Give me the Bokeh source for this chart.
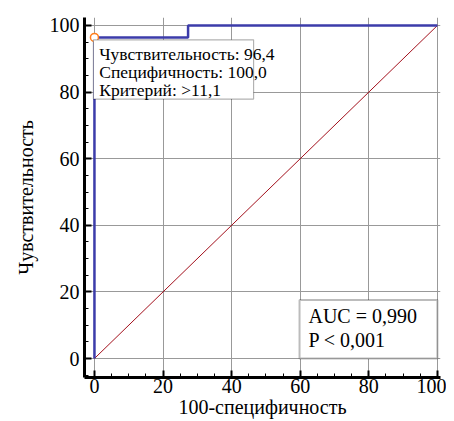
from bokeh.plotting import figure
from bokeh.models import SingleIntervalTicker, Label, BoxAnnotation, Range1d
from bokeh.embed import file_html
from bokeh.resources import INLINE

# ROC data (100-specificity, sensitivity)
fpr = [0, 0, 27.3, 27.3, 100]
tpr = [0, 96.4, 96.4, 100, 100]
diag_x = [0, 100]
diag_y = [0, 100]
cut_x = [0]
cut_y = [96.4]
info_lines = ["Чувствительность: 96,4", "Специфичность: 100,0", "Критерий: >11,1"]
auc_lines = ["AUC = 0,990", "P < 0,001"]

FONT = "'Liberation Serif', 'Times New Roman', serif"

p = figure(width=446, height=420, output_backend="svg", toolbar_location=None,
           x_range=Range1d(-2.9, 100.9), y_range=Range1d(-5.7, 102.4),
           min_border_left=84, min_border_right=6, min_border_top=17, min_border_bottom=40)
p.outline_line_color = None
p.background_fill_color = "white"

p.axis.ticker = SingleIntervalTicker(interval=20, num_minor_ticks=4)
p.axis.axis_line_width = 3
p.axis.axis_line_color = "black"
p.axis.major_tick_in = 7
p.axis.major_tick_out = 0
p.axis.minor_tick_in = 4
p.axis.minor_tick_out = 0
p.axis.major_tick_line_width = 2
p.axis.minor_tick_line_width = 1
p.axis.major_label_text_font = FONT
p.axis.major_label_text_font_size = "20px"
p.axis.major_label_text_color = "black"
p.axis.axis_label_text_font = FONT
p.axis.axis_label_text_font_size = "20px"
p.axis.axis_label_text_font_style = "normal"
p.axis.axis_label_text_color = "black"
p.xaxis.major_label_standoff = 1
p.yaxis.major_label_standoff = 5
p.xaxis.axis_label_standoff = 0
p.yaxis.axis_label_standoff = 10

p.xaxis.axis_label = "100-специфичность"
p.yaxis.axis_label = "Чувствительность"

p.grid.ticker = SingleIntervalTicker(interval=20)
p.grid.grid_line_color = "#999999"
p.grid.grid_line_width = 1

p.line(diag_x, diag_y, line_color="#a3101c", line_width=1)
p.line(fpr, tpr, line_color="#3c3caa", line_width=2.5)
p.scatter(cut_x, cut_y, size=8, marker="circle", fill_color="white",
          line_color="#ff7f1e", line_width=1.5)

# info box
p.add_layout(BoxAnnotation(left=-0.3, right=46.4, top=95.7, bottom=77.9,
                           fill_color="white", fill_alpha=1, line_color="black",
                           line_width=1.2))
for i, t in enumerate(info_lines):
    p.add_layout(Label(x=1.4, y=91.3 - i * 5.3, text=t, text_font=FONT,
                       text_font_size="17.5px", text_baseline="middle", text_color="black"))

# AUC box
p.add_layout(BoxAnnotation(left=59.8, right=100, top=17.6, bottom=0,
                           fill_color="white", fill_alpha=1, line_color="#222222",
                           line_width=2))
for i, t in enumerate(auc_lines):
    p.add_layout(Label(x=62.4, y=12.9 - i * 7.3, text=t, text_font=FONT,
                       text_font_size="20px", text_baseline="middle", text_color="black"))

open("out.html", "w").write(file_html(p, INLINE))
